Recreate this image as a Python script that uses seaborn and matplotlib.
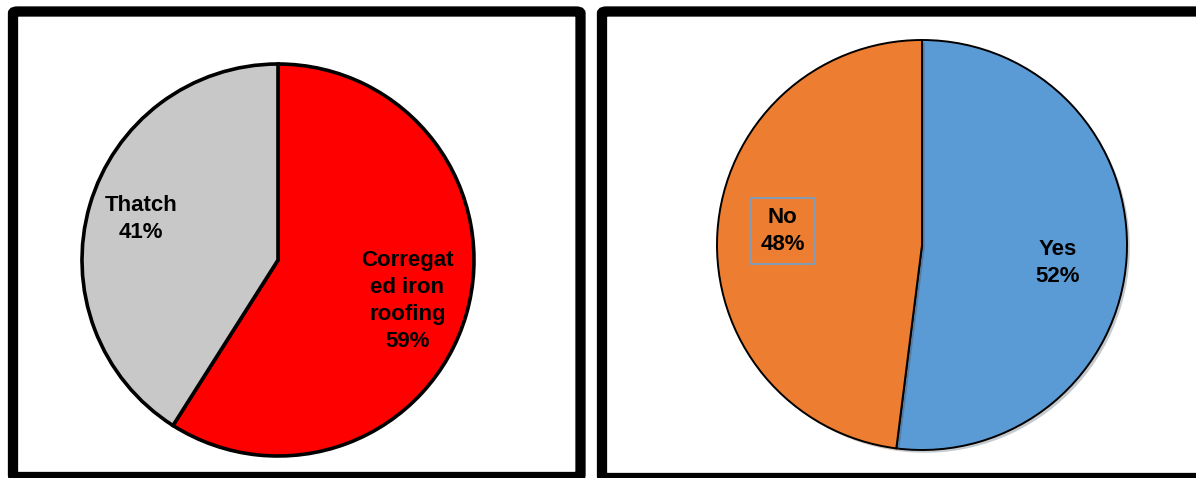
import matplotlib
matplotlib.use("Agg")
import matplotlib.pyplot as plt
import seaborn as sns
from matplotlib.patches import FancyBboxPatch
import matplotlib.patheffects as pe

sns.set_theme(style="white")
plt.rcParams['font.family'] = ['Liberation Sans', 'DejaVu Sans']

# Data
roof_labels = ["Corregat\ned iron\nroofing", "Thatch"]
roof_values = [59, 41]
roof_colors = ["#FF0000", "#C8C8C8"]

yn_labels = ["Yes", "No"]
yn_values = [52, 48]
yn_colors = ["#5B9BD5", "#ED7D31"]

W, H = 1196, 478
fig = plt.figure(figsize=(W / 100, H / 100), dpi=100)
fig.patch.set_facecolor("white")

# Panel frames (pixel coords -> figure fraction)
def frame(x0, y0, x1, y1):
    p = FancyBboxPatch((x0 / W, 1 - y1 / H), (x1 - x0) / W, (y1 - y0) / H,
                       boxstyle="round,pad=0,rounding_size=0.004",
                       transform=fig.transFigure, fill=False,
                       edgecolor="black", linewidth=7.4, zorder=5)
    fig.patches.append(p)

frame(13, 11.5, 580.5, 477)
frame(602, 11.5, 1225, 478)

def pie_axes(cx, cy, r, pad=1.03):
    half = r * pad
    ax = fig.add_axes([(cx - half) / W, (H - cy - half) / H, 2 * half / W, 2 * half / H])
    ax.set_xlim(-pad, pad)
    ax.set_ylim(-pad, pad)
    ax.axis("off")
    return ax

label_kw = dict(ha="center", va="center", fontsize=16, fontweight="bold",
                linespacing=1.38, color="black")

# Left pie
ax1 = pie_axes(278, 260, 196)
ax1.pie(roof_values, colors=roof_colors, startangle=90, counterclock=False,
        wedgeprops=dict(edgecolor="black", linewidth=2.6), radius=1)
ax1.set_xlim(-1.03, 1.03); ax1.set_ylim(-1.03, 1.03)
ax1.text(0.66, -0.21, f"{roof_labels[0]}\n{roof_values[0]}%", **label_kw)
ax1.text(-0.70, 0.21, f"{roof_labels[1]}\n{roof_values[1]}%", **label_kw)

# Right pie
ax2 = pie_axes(922, 245, 205)
wedges, _ = ax2.pie(yn_values, colors=yn_colors, startangle=90, counterclock=False,
                    wedgeprops=dict(edgecolor="black", linewidth=1.4), radius=1)
for w in wedges:
    w.set_path_effects([pe.SimplePatchShadow(offset=(2, -2), alpha=0.25), pe.Normal()])
ax2.set_xlim(-1.03, 1.03); ax2.set_ylim(-1.03, 1.03)
ax2.text(0.66, -0.09, f"{yn_labels[0]}\n{yn_values[0]}%", **label_kw)
ax2.text(-0.68, 0.07, f"{yn_labels[1]}\n{yn_values[1]}%", **label_kw,
         bbox=dict(boxstyle="square,pad=0.4", facecolor="none", edgecolor="#6FA0D0", linewidth=1.2))

fig.savefig("out.png", dpi=100, facecolor="white")
